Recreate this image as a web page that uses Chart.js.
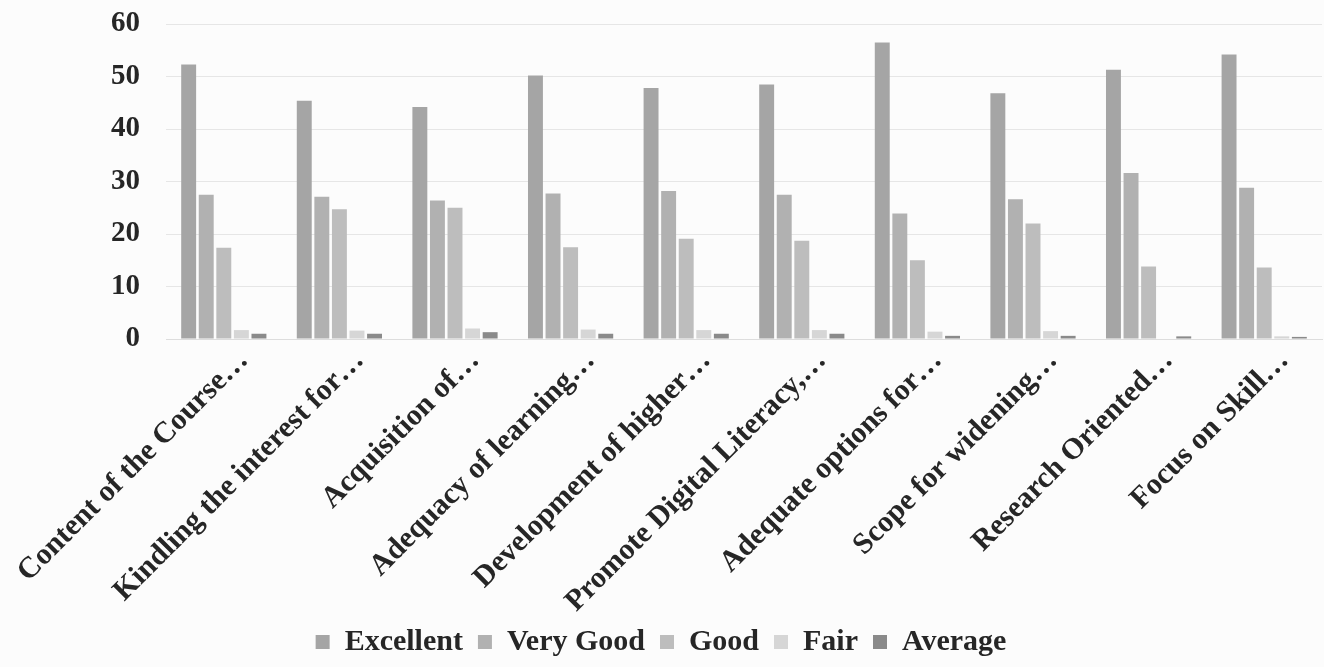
<!DOCTYPE html>
<html>
<head>
<meta charset="utf-8">
<script src="https://cdn.jsdelivr.net/npm/chart.js@4"></script>
<style>
  html, body { margin: 0; padding: 0; background: #fcfcfc; }
  #wrap { width: 1324px; height: 667px; }
</style>
</head>
<body>
<div id="wrap"><canvas id="feedbackChart"></canvas></div>
<script>
// Categories (truncated as in the original)
const categories = [
    "Content of the Course…",
    "Kindling the interest for…",
    "Acquisition of…",
    "Adequacy of learning…",
    "Development of higher…",
    "Promote Digital Literacy,…",
    "Adequate options for…",
    "Scope for widening…",
    "Research Oriented…",
    "Focus on Skill…"
];

// Series values (%)
const excellent = [52.3, 45.4, 44.2, 50.2, 47.8, 48.5, 56.5, 46.8, 51.3, 54.2];
const veryGood  = [27.5, 27.1, 26.4, 27.7, 28.2, 27.5, 23.9, 26.6, 31.6, 28.8];
const good      = [17.4, 24.7, 25.0, 17.5, 19.1, 18.7, 15.0, 22.0, 13.8, 13.6];
const fair      = [1.7, 1.6, 2.0, 1.8, 1.7, 1.7, 1.4, 1.5, 0, 0.5];
const average   = [1.0, 1.0, 1.3, 1.0, 1.0, 1.0, 0.6, 0.6, 0.5, 0.4];

const yTicks = [0, 10, 20, 30, 40, 50, 60];

const serif = "'Liberation Serif', 'Times New Roman', serif";
Chart.defaults.font.family = serif;
Chart.defaults.font.weight = "bold";
Chart.defaults.color = "#262626";

const ctx = document.getElementById("feedbackChart").getContext("2d");
new Chart(ctx, {
    type: "bar",
    data: {
        labels: categories,
        datasets: [
            { label: "Excellent", data: excellent, backgroundColor: "#a5a5a5" },
            { label: "Very Good", data: veryGood, backgroundColor: "#b1b1b1" },
            { label: "Good", data: good, backgroundColor: "#bdbdbd" },
            { label: "Fair", data: fair, backgroundColor: "#d6d6d6" },
            { label: "Average", data: average, backgroundColor: "#8a8a8a" }
        ]
    },
    options: {
        responsive: true,
        maintainAspectRatio: false,
        animation: false,
        datasets: {
            bar: { categoryPercentage: 0.76, barPercentage: 0.85 }
        },
        layout: { padding: { top: 24, right: 2, left: 0, bottom: 0 } },
        plugins: {
            legend: {
                position: "bottom",
                labels: {
                    boxWidth: 14,
                    boxHeight: 14,
                    padding: 15,
                    font: { size: 30, weight: "bold", family: serif }
                }
            },
            tooltip: { enabled: false }
        },
        scales: {
            y: {
                min: 0,
                max: 60,
                afterBuildTicks: axis => { axis.ticks = yTicks.map(v => ({ value: v })); },
                afterFit: axis => {
                    axis.width = 166;
                    axis.paddingTop = 0;
                    axis.paddingBottom = 0;
                },
                border: { display: false },
                grid: { color: "#e6e6e6", drawTicks: false },
                ticks: { padding: 26, font: { size: 29, weight: "bold", family: serif } }
            },
            x: {
                afterFit: axis => {
                    axis.height = 273;
                    axis.paddingLeft = 0;
                    axis.paddingRight = 0;
                },
                border: { color: "#dddddd" },
                grid: { display: false },
                ticks: {
                    autoSkip: false,
                    minRotation: 45,
                    maxRotation: 45,
                    padding: -4,
                    labelOffset: 20,
                    font: { size: 30, weight: "bold", family: serif }
                }
            }
        }
    }
});
</script>
</body>
</html>
